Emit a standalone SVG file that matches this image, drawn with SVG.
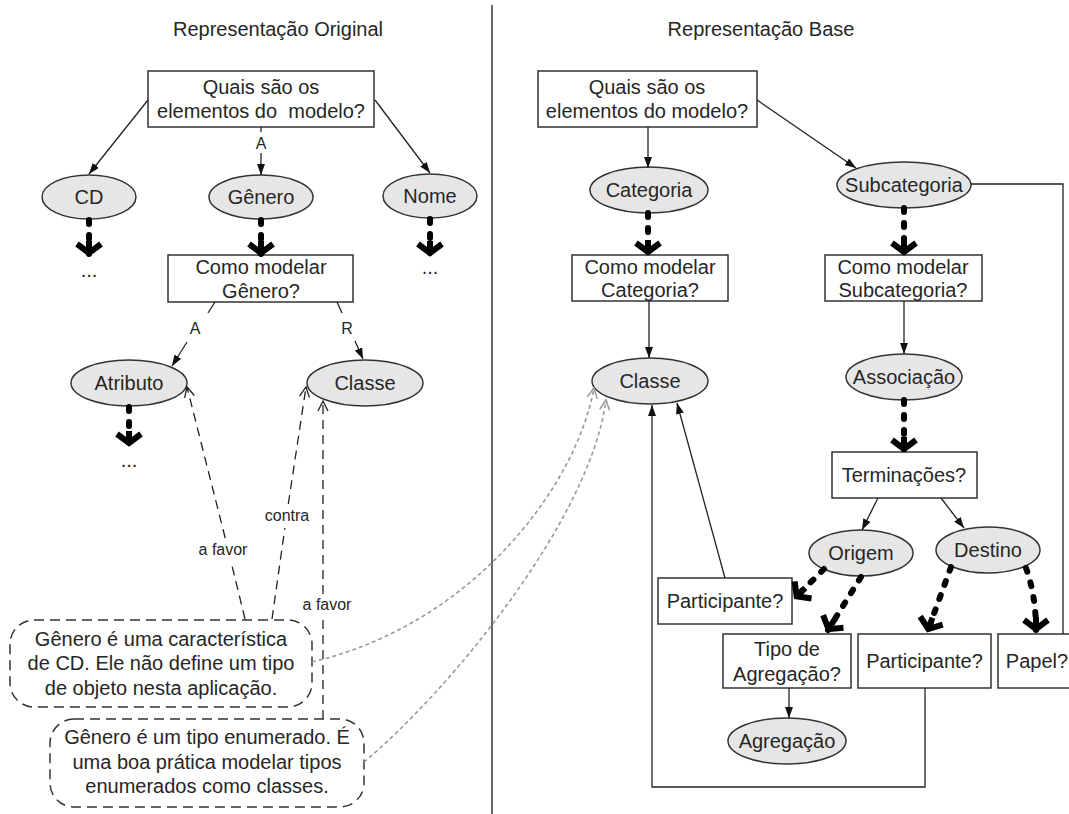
<svg xmlns="http://www.w3.org/2000/svg" width="1069" height="814" viewBox="0 0 1069 814">
<style>
.t{font-family:"Liberation Sans",Arial,sans-serif;font-size:20px;fill:#262626;text-anchor:middle}
.lbl{font-size:16px}
.box{fill:#fff;stroke:#333;stroke-width:1.5}
.ell{fill:#e6e6e6;stroke:#333;stroke-width:1.5}
.conn{fill:none;stroke:#222;stroke-width:1.3}
.thick{fill:none;stroke:#000;stroke-width:6;stroke-dasharray:4 11;stroke-linecap:round}
.dash{fill:none;stroke:#222;stroke-width:1.3;stroke-dasharray:9 6}
.grey{fill:none;stroke:#999;stroke-width:1.6;stroke-dasharray:4 3}
.callout{fill:#fff;stroke:#333;stroke-width:1.5;stroke-dasharray:10 6}
</style>
<defs>
<marker id="af" markerUnits="userSpaceOnUse" markerWidth="11" markerHeight="8" refX="11" refY="4" orient="auto" viewBox="0 0 11 8">
<path d="M0,0 L11,4 L0,8 z" fill="#111"/>
</marker>
<marker id="ao" markerUnits="userSpaceOnUse" markerWidth="12" markerHeight="12" refX="11" refY="6" orient="auto" viewBox="0 0 12 12">
<path d="M1,1 L11,6 L1,11" fill="none" stroke="#222" stroke-width="1.3"/>
</marker>
<marker id="ag" markerUnits="userSpaceOnUse" markerWidth="12" markerHeight="12" refX="11" refY="6" orient="auto" viewBox="0 0 12 12">
<path d="M1,1 L11,6 L1,11" fill="none" stroke="#999" stroke-width="1.5"/>
</marker>
<marker id="ch" markerUnits="userSpaceOnUse" markerWidth="20" markerHeight="32" refX="0" refY="0" orient="auto" viewBox="-16 -16 20 32" overflow="visible">
<path d="M-10,-12 L-1,0 L-10,12" fill="none" stroke="#000" stroke-width="6" stroke-linejoin="miter"/>
<path d="M-13,0 L-3,0" fill="none" stroke="#000" stroke-width="6"/>
</marker>
</defs>
<rect x="0" y="0" width="1069" height="814" fill="#fff"/>
<line x1="492" y1="5" x2="492" y2="814" stroke="#333" stroke-width="1.5"/>

<g id="titles">
<text class="t" x="278" y="36">Representação Original</text>
<text class="t" x="761" y="36">Representação Base</text>
</g>

<g id="L-elementos"><rect class="box" x="148" y="71" width="226" height="56"/><text class="t" x="261" y="94">Quais são os</text><text class="t" x="261" y="118" xml:space="preserve" style="white-space:pre">elementos do  modelo?</text></g>
<g id="L-cd"><ellipse class="ell" cx="89" cy="197" rx="47" ry="22"/><text class="t" x="89" y="204">CD</text></g>
<g id="L-genero"><ellipse class="ell" cx="261" cy="197" rx="52" ry="22"/><text class="t" x="261" y="204">Gênero</text></g>
<g id="L-nome"><ellipse class="ell" cx="430" cy="196" rx="47" ry="22"/><text class="t" x="430" y="203">Nome</text></g>
<g id="L-cd-more"><text class="t" x="89" y="277">...</text></g>
<g id="L-nome-more"><text class="t" x="430" y="274">...</text></g>
<g id="L-como-genero"><rect class="box" x="168" y="255" width="185" height="47"/><text class="t" x="261" y="274">Como modelar</text><text class="t" x="261" y="298">Gênero?</text></g>
<g id="L-atributo"><ellipse class="ell" cx="129" cy="383" rx="58" ry="23"/><text class="t" x="129" y="390">Atributo</text></g>
<g id="L-atributo-more"><text class="t" x="129" y="467">...</text></g>
<g id="L-classe"><ellipse class="ell" cx="365" cy="383" rx="58" ry="23"/><text class="t" x="365" y="390">Classe</text></g>
<g id="L-callout1"><rect class="callout" x="10" y="620" width="302" height="87" rx="24"/><text class="t" x="161" y="646">Gênero é uma característica</text><text class="t" x="161" y="670">de CD. Ele não define um tipo</text><text class="t" x="161" y="695">de objeto nesta aplicação.</text></g>
<g id="L-callout2"><rect class="callout" x="50" y="719" width="314" height="88" rx="24"/><text class="t" x="207" y="744">Gênero é um tipo enumerado. É</text><text class="t" x="207" y="768.5">uma boa prática modelar tipos</text><text class="t" x="207" y="793">enumerados como classes.</text></g>

<g id="R-elementos"><rect class="box" x="538" y="71" width="219" height="56"/><text class="t" x="647" y="94">Quais são os</text><text class="t" x="647" y="118">elementos do modelo?</text></g>
<g id="R-categoria"><ellipse class="ell" cx="649" cy="190" rx="59" ry="23"/><text class="t" x="649" y="197">Categoria</text></g>
<g id="R-subcategoria"><ellipse class="ell" cx="904" cy="185" rx="67" ry="23"/><text class="t" x="904" y="192">Subcategoria</text></g>
<g id="R-como-categoria"><rect class="box" x="572" y="255" width="156" height="46"/><text class="t" x="650" y="274">Como modelar</text><text class="t" x="650" y="297">Categoria?</text></g>
<g id="R-como-subcategoria"><rect class="box" x="825" y="255" width="157" height="46"/><text class="t" x="903" y="274">Como modelar</text><text class="t" x="903" y="297">Subcategoria?</text></g>
<g id="R-classe"><ellipse class="ell" cx="650" cy="381" rx="58" ry="23"/><text class="t" x="650" y="388">Classe</text></g>
<g id="R-associacao"><ellipse class="ell" cx="904" cy="377" rx="58" ry="23"/><text class="t" x="904" y="384">Associação</text></g>
<g id="R-terminacoes"><rect class="box" x="832" y="452" width="145" height="46"/><text class="t" x="904" y="482">Terminações?</text></g>
<g id="R-origem"><ellipse class="ell" cx="861" cy="553" rx="52" ry="23"/><text class="t" x="861" y="560">Origem</text></g>
<g id="R-destino"><ellipse class="ell" cx="988" cy="550" rx="52" ry="23"/><text class="t" x="988" y="557">Destino</text></g>
<g id="R-participante1"><rect class="box" x="658" y="578" width="134" height="46"/><text class="t" x="725" y="608">Participante?</text></g>
<g id="R-tipo-agregacao"><rect class="box" x="723" y="634" width="128" height="54"/><text class="t" x="787" y="656">Tipo de</text><text class="t" x="787" y="681">Agregação?</text></g>
<g id="R-participante2"><rect class="box" x="858" y="634" width="133" height="54"/><text class="t" x="924.5" y="668">Participante?</text></g>
<g id="R-papel"><rect class="box" x="998" y="634" width="80" height="54"/><text class="t" x="1037" y="668">Papel?</text></g>
<g id="R-agregacao"><ellipse class="ell" cx="787" cy="741" rx="59" ry="23"/><text class="t" x="787" y="748">Agregação</text></g>

<g id="connectors">
<line class="conn" x1="148" y1="100" x2="89" y2="174" marker-end="url(#af)"/>
<line class="conn" x1="375" y1="100" x2="430" y2="173" marker-end="url(#af)"/>
<line class="conn" x1="261" y1="127" x2="261" y2="132"/>
<line class="conn" x1="261" y1="153" x2="261" y2="175" marker-end="url(#af)"/>
<text class="t lbl" x="261" y="149">A</text>
<line class="thick" x1="89" y1="220" x2="89" y2="254" marker-end="url(#ch)"/>
<line class="thick" x1="261" y1="220" x2="261" y2="254" marker-end="url(#ch)"/>
<line class="thick" x1="430" y1="219" x2="430" y2="254" marker-end="url(#ch)"/>
<line class="thick" x1="129" y1="407" x2="129" y2="444" marker-end="url(#ch)"/>
<line class="conn" x1="215" y1="302" x2="208" y2="313"/>
<line class="conn" x1="187" y1="342" x2="172" y2="366" marker-end="url(#af)"/>
<text class="t lbl" x="195" y="334">A</text>
<line class="conn" x1="337" y1="302" x2="342" y2="313"/>
<line class="conn" x1="355" y1="341" x2="363" y2="359" marker-end="url(#af)"/>
<text class="t lbl" x="347" y="334">R</text>
<line class="dash" x1="245" y1="619" x2="231.1" y2="562"/>
<line class="dash" x1="225.2" y1="538" x2="187" y2="387" marker-end="url(#ao)"/>
<text class="t lbl" x="223" y="555">a favor</text>
<line class="dash" x1="272" y1="619" x2="284.9" y2="528"/>
<line class="dash" x1="288.3" y1="504" x2="306" y2="387" marker-end="url(#ao)"/>
<text class="t lbl" x="287" y="521">contra</text>
<line class="dash" x1="323" y1="719" x2="323" y2="618"/>
<line class="dash" x1="323" y1="594" x2="323" y2="401" marker-end="url(#ao)"/>
<text class="t lbl" x="327" y="610">a favor</text>
<path class="grey" d="M312,662 C470,625 575,490 594,388" marker-end="url(#ag)"/>
<path class="grey" d="M364,762 C450,690 590,520 606,400" marker-end="url(#ag)"/>

<line class="conn" x1="648" y1="127" x2="648" y2="168" marker-end="url(#af)"/>
<line class="conn" x1="757" y1="100" x2="856" y2="168" marker-end="url(#af)"/>
<polyline class="conn" points="971,184 1063,184 1063,634"/>
<line class="thick" x1="648" y1="213" x2="648" y2="253" marker-end="url(#ch)"/>
<line class="thick" x1="904" y1="208" x2="904" y2="253" marker-end="url(#ch)"/>
<line class="conn" x1="649" y1="301" x2="649" y2="358" marker-end="url(#af)"/>
<line class="conn" x1="904" y1="301" x2="904" y2="354" marker-end="url(#af)"/>
<line class="thick" x1="904" y1="400" x2="904" y2="450" marker-end="url(#ch)"/>
<line class="conn" x1="878" y1="498" x2="862" y2="530" marker-end="url(#af)"/>
<line class="conn" x1="941" y1="498" x2="964" y2="528" marker-end="url(#af)"/>
<line class="thick" x1="824" y1="569" x2="796" y2="597" marker-end="url(#ch)"/>
<line class="thick" x1="861" y1="577" x2="828" y2="630" marker-end="url(#ch)"/>
<line class="thick" x1="951" y1="567" x2="928" y2="630" marker-end="url(#ch)"/>
<path class="thick" d="M1026,568 Q1036,596 1036,630" marker-end="url(#ch)"/>
<line class="conn" x1="725" y1="578" x2="677" y2="403" marker-end="url(#af)"/>
<polyline class="conn" points="925,688 925,787 652,787 652,405" marker-end="url(#af)"/>
<line class="conn" x1="789" y1="688" x2="789" y2="718" marker-end="url(#af)"/>
</g>
</svg>
